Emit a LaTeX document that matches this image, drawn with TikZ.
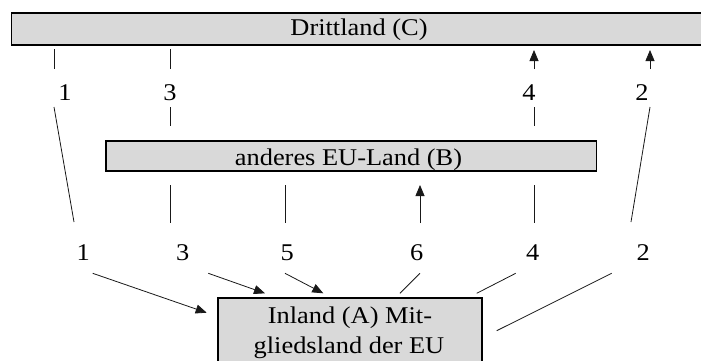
\documentclass[tikz,border=0pt]{standalone}
\usepackage{fontspec}
\setmainfont[FakeStretch=1.1]{Liberation Serif}
\usetikzlibrary{arrows.meta}
\definecolor{boxgray}{RGB}{217,217,217}
\begin{document}
\begin{tikzpicture}[x=1pt,y=-1pt,
  box/.style={draw=black, line width=1.8pt, fill=boxgray, inner sep=0pt},
  lbl/.style={inner sep=0pt, anchor=base, font=\fontsize{24}{30}\selectfont},
  con/.style={line width=0.8pt, draw=black!90},
  arr/.style={con, -{Triangle[length=11pt,width=9pt]}}]
\useasboundingbox (0,0) rectangle (701,360);
% boxes
\node[box, minimum width=740pt, minimum height=32pt, anchor=north west] (C) at (10.5,12) {};
\node[lbl] (Ct) at (359,35) {Drittland (C)};
\node[box, minimum width=490.5pt, minimum height=30pt, anchor=north west] (B) at (105,140) {};
\node[lbl] (Bt) at (348.5,165) {anderes EU-Land (B)};
\node[box, minimum width=264pt, minimum height=100pt, anchor=north] (A) at (350,297) {};
\node[lbl] (At1) at (350,323) {Inland (A) Mit-};
\node[lbl] (At2) at (349,353) {gliedsland der EU};
% labels row 1
\node[lbl] (u1) at (65,100) {1};
\node[lbl] (u3) at (170,100) {3};
\node[lbl] (u4) at (529,100) {4};
\node[lbl] (u2) at (642,100) {2};
% labels row 2
\node[lbl] (w1) at (83.3,260) {1};
\node[lbl] (w3) at (182.7,260) {3};
\node[lbl] (w5) at (287.3,260) {5};
\node[lbl] (w6) at (416.7,260) {6};
\node[lbl] (w4) at (532.7,260) {4};
\node[lbl] (w2) at (643.3,260) {2};
% coordinates
\coordinate (c1a) at (54.5,49);  \coordinate (c1b) at (54.5,69);
\coordinate (c3a) at (170,49);   \coordinate (c3b) at (170,69);
\coordinate (c4a) at (534,50);   \coordinate (c4b) at (534,69);
\coordinate (c2a) at (650,50);   \coordinate (c2b) at (650,69);
\coordinate (d1a) at (54,107);   \coordinate (d1b) at (74,222);
\coordinate (d3a) at (170,107);  \coordinate (d3b) at (170,126);
\coordinate (d4a) at (534,107);  \coordinate (d4b) at (534,126);
\coordinate (d2a) at (650,107);  \coordinate (d2b) at (631,222);
\coordinate (e3a) at (170,185);  \coordinate (e3b) at (170,223);
\coordinate (e5a) at (285.5,185);\coordinate (e5b) at (285.5,223);
\coordinate (e6a) at (420,185);  \coordinate (e6b) at (420,223);
\coordinate (e4a) at (534,185);  \coordinate (e4b) at (534,223);
\coordinate (f1a) at (92.7,273.3);  \coordinate (f1b) at (206.7,312.7);
\coordinate (f3a) at (208.3,273.3); \coordinate (f3b) at (265,293.3);
\coordinate (f5a) at (285,273.3);   \coordinate (f5b) at (323.3,293.3);
\coordinate (f6a) at (420,273.3);   \coordinate (f6b) at (400,293.3);
\coordinate (f4a) at (515.7,273.3); \coordinate (f4b) at (476.7,293.3);
\coordinate (f2a) at (611.7,273.3); \coordinate (f2b) at (496.7,330.7);
% connectors
\draw[con] (c1a) -- (c1b);
\draw[con] (c3a) -- (c3b);
\draw[arr] (c4b) -- (c4a);
\draw[arr] (c2b) -- (c2a);
\draw[con] (d1a) -- (d1b);
\draw[con] (d3a) -- (d3b);
\draw[con] (d4a) -- (d4b);
\draw[con] (d2a) -- (d2b);
\draw[con] (e3a) -- (e3b);
\draw[con] (e5a) -- (e5b);
\draw[arr] (e6b) -- (e6a);
\draw[con] (e4a) -- (e4b);
\draw[arr] (f1a) -- (f1b);
\draw[arr] (f3a) -- (f3b);
\draw[arr] (f5a) -- (f5b);
\draw[con] (f6a) -- (f6b);
\draw[con] (f4a) -- (f4b);
\draw[con] (f2a) -- (f2b);
\end{tikzpicture}
\end{document}
